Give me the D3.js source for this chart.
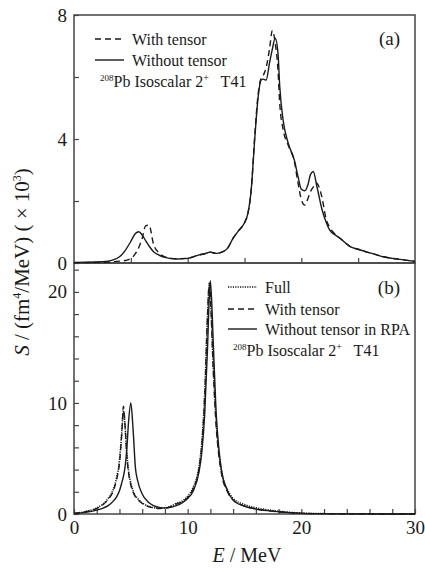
<!DOCTYPE html>
<html>
<head>
<meta charset="utf-8">
<script src="https://cdn.jsdelivr.net/npm/d3@7"></script>
<style>
  body { margin: 0; background: #fff; }
  svg { display: block; }
  text { font-family: "Liberation Serif", "Times New Roman", serif; fill: #1a1a1a; }
</style>
</head>
<body>
<div id="container"></div>
<script>
// panel (a): strength functions with / without tensor
const energyA = [0, 2, 3, 4, 4.5, 5, 5.4, 5.7, 6, 6.3, 6.6, 7, 7.5, 8, 9, 10, 10.5, 11, 11.5, 12, 12.5, 13, 13.5, 14, 14.5, 15, 15.3, 15.6, 15.9, 16.2, 16.45, 16.65, 16.9, 17.2, 17.45, 17.7, 17.95, 18.1, 18.4, 18.85, 19.4, 19.7, 20, 20.3, 20.6, 20.8, 21.05, 21.35, 21.5, 21.8, 22.2, 22.5, 23, 23.4, 24.3, 25.2, 25.7, 26.5, 27.2, 28, 29, 30];
const withoutTensorA = [0.02, 0.03, 0.06, 0.2, 0.4, 0.7, 0.95, 1.01, 0.9, 0.72, 0.55, 0.36, 0.25, 0.18, 0.13, 0.15, 0.2, 0.26, 0.3, 0.35, 0.31, 0.35, 0.47, 0.8, 1.05, 1.3, 1.6, 2.4, 4.0, 5.35, 5.9, 5.93, 5.9, 6.45, 6.9, 7.25, 6.75, 5.7, 4.6, 3.86, 3.3, 2.8, 2.38, 2.33, 2.55, 2.85, 2.95, 2.5, 2.25, 1.75, 1.3, 1.06, 0.9, 0.8, 0.53, 0.42, 0.36, 0.28, 0.2, 0.15, 0.1, 0.05];
const withTensorA = [0.01, 0.02, 0.03, 0.06, 0.08, 0.15, 0.3, 0.5, 0.8, 1.2, 1.22, 0.6, 0.32, 0.2, 0.14, 0.15, 0.2, 0.26, 0.3, 0.35, 0.31, 0.35, 0.47, 0.8, 1.05, 1.3, 1.6, 2.4, 4.1, 5.45, 5.95, 6.05, 6.3, 6.9, 7.5, 7.1, 6.2, 5.15, 4.3, 3.8, 3.25, 2.6, 2.05, 1.87, 2.1, 2.3, 2.45, 2.58, 2.5, 2.14, 1.39, 1.15, 0.92, 0.8, 0.53, 0.42, 0.36, 0.28, 0.2, 0.15, 0.1, 0.05];

// panel (b): full / with tensor / without tensor in RPA
const energyB = [0, 1, 2, 2.5, 3, 3.5, 3.75, 4, 4.2, 4.35, 4.5, 4.65, 4.8, 5, 5.2, 5.4, 5.6, 6, 6.5, 7, 7.5, 8, 8.5, 9, 9.5, 10, 10.5, 11, 11.25, 11.5, 11.75, 11.9, 12, 12.25, 12.5, 12.75, 13, 13.5, 14, 15, 16, 17, 18, 19, 20, 22, 25, 30];
const fullB = [0.05, 0.22, 0.55, 0.85, 1.4, 2.35, 3.3, 4.8, 7.3, 9.3, 7.8, 5.4, 3.9, 2.8, 2.1, 1.65, 1.4, 1.0, 0.72, 0.58, 0.52, 0.55, 0.7, 0.95, 1.15, 1.6, 2.45, 4.3, 6.5, 10.8, 17.8, 20.6, 19.6, 13.4, 8.4, 5.5, 3.7, 2.2, 1.4, 0.85, 0.55, 0.38, 0.25, 0.15, 0.08, 0.03, 0.01, 0];
const withTensorB = [0.05, 0.2, 0.5, 0.8, 1.3, 2.2, 3.1, 4.6, 7.2, 9.7, 7.8, 5.2, 3.7, 2.6, 1.95, 1.55, 1.3, 0.95, 0.68, 0.55, 0.5, 0.52, 0.65, 0.9, 1.1, 1.5, 2.3, 4.1, 6.3, 10.6, 18.0, 20.8, 19.5, 13.0, 8.0, 5.2, 3.5, 2.0, 1.25, 0.72, 0.45, 0.3, 0.2, 0.12, 0.06, 0.03, 0.01, 0];
const withoutTensorB = [0.05, 0.15, 0.35, 0.5, 0.75, 1.2, 1.55, 2.1, 2.8, 3.4, 4.3, 5.9, 8.3, 10.0, 7.6, 4.2, 3.0, 1.8, 1.1, 0.75, 0.6, 0.55, 0.6, 0.75, 1.0, 1.4, 2.1, 3.8, 5.6, 9.0, 15.0, 19.5, 21.0, 15.5, 9.2, 5.8, 3.8, 2.1, 1.25, 0.7, 0.45, 0.3, 0.2, 0.12, 0.06, 0.03, 0.01, 0];

const yTicksA = [0, 2, 4, 6, 8];
const yLabelsA = [0, 4, 8];
const yTicksB = [0, 2, 4, 6, 8, 10, 12, 14, 16, 18, 20, 22];
const yLabelsB = [0, 10, 20];
const xTicksA = [5, 10, 15, 20, 25];
const xTicksB = [0, 2, 4, 6, 8, 10, 12, 14, 16, 18, 20, 22, 24, 26, 28, 30];
const xLabelsB = [0, 10, 20, 30];

const W = 425, H = 569;
const left = 74, right = 415;
const topA = 15, midY = 263, bottomB = 514;

const svg = d3.select("#container").append("svg")
  .attr("width", W).attr("height", H);

const x = d3.scaleLinear().domain([0, 30]).range([left, right]);
const yA = d3.scaleLinear().domain([0, 8]).range([midY, topA]);
const yB = d3.scaleLinear().domain([0, 22.6]).range([bottomB, midY]);

const ink = "#1a1a1a";
const frame = "#444";

function styleAxis(g) {
  g.select(".domain").remove();
  g.selectAll(".tick line").attr("stroke", frame).attr("stroke-width", 1.2);
  g.selectAll(".tick text").attr("font-size", 19).attr("fill", ink);
}

// y axes
svg.append("g").attr("transform", `translate(${left},0)`)
  .call(d3.axisLeft(yA).tickValues(yTicksA).tickSizeInner(-5).tickSizeOuter(0).tickPadding(7)
    .tickFormat(d => yLabelsA.includes(d) ? d : ""))
  .call(styleAxis);

svg.append("g").attr("transform", `translate(${left},0)`)
  .call(d3.axisLeft(yB).tickValues(yTicksB).tickSizeInner(-5).tickSizeOuter(0).tickPadding(7)
    .tickFormat(d => yLabelsB.includes(d) ? d : ""))
  .call(styleAxis);

// x axes
svg.append("g").attr("transform", `translate(0,${midY})`)
  .call(d3.axisBottom(x).tickValues(xTicksA).tickSizeInner(-5).tickSizeOuter(0).tickFormat(""))
  .call(styleAxis);

svg.append("g").attr("transform", `translate(0,${bottomB})`)
  .call(d3.axisBottom(x).tickValues(xTicksB).tickSizeInner(-5).tickSizeOuter(0).tickPadding(7)
    .tickFormat(d => xLabelsB.includes(d) ? d : ""))
  .call(styleAxis);

// frames
svg.append("rect").attr("x", left).attr("y", topA).attr("width", right - left).attr("height", midY - topA)
  .attr("fill", "none").attr("stroke", frame).attr("stroke-width", 1.5);
svg.append("rect").attr("x", left).attr("y", midY).attr("width", right - left).attr("height", bottomB - midY)
  .attr("fill", "none").attr("stroke", frame).attr("stroke-width", 1.5);

// curves
const dashes = { solid: null, dashed: "6,4", dotted: "1.2,1.2" };

function drawCurve(energy, values, yScale, style) {
  const pts = energy.map((e, i) => [e, values[i]]);
  const line = d3.line().x(d => x(d[0])).y(d => yScale(d[1])).curve(d3.curveMonotoneX);
  svg.append("path").datum(pts)
    .attr("d", line)
    .attr("fill", "none")
    .attr("stroke", ink)
    .attr("stroke-width", style === "dotted" ? 1.6 : 1.4)
    .attr("stroke-dasharray", dashes[style]);
}

drawCurve(energyA, withoutTensorA, yA, "solid");
drawCurve(energyA, withTensorA, yA, "dashed");

drawCurve(energyB, fullB, yB, "dotted");
drawCurve(energyB, withTensorB, yB, "dashed");
drawCurve(energyB, withoutTensorB, yB, "solid");

// legends
function legendRow(x0, y0, style, label) {
  svg.append("line").attr("x1", x0).attr("x2", x0 + 29).attr("y1", y0).attr("y2", y0)
    .attr("stroke", ink).attr("stroke-width", style === "dotted" ? 1.6 : 1.4)
    .attr("stroke-dasharray", dashes[style]);
  svg.append("text").attr("x", x0 + 37).attr("y", y0 + 5.5).attr("font-size", 16).text(label);
}

function nucleusLabel(x0, y0) {
  const t = svg.append("text").attr("x", x0).attr("y", y0).attr("font-size", 16)
    .style("white-space", "pre");
  t.append("tspan").attr("font-size", 9).attr("dy", -6).text("208");
  t.append("tspan").attr("dy", 6).text("Pb Isoscalar 2");
  t.append("tspan").attr("font-size", 10).attr("dy", -6).text("+");
  t.append("tspan").attr("dy", 6).text("   T41");
}

legendRow(95, 39, "dashed", "With tensor");
legendRow(95, 60, "solid", "Without tensor");
nucleusLabel(100, 87);

legendRow(228, 287, "dotted", "Full");
legendRow(228, 309, "dashed", "With tensor");
legendRow(228, 329, "solid", "Without tensor in RPA");
nucleusLabel(233, 356);

svg.append("text").attr("x", 400).attr("y", 45).attr("text-anchor", "end").attr("font-size", 19).text("(a)");
svg.append("text").attr("x", 400).attr("y", 294).attr("text-anchor", "end").attr("font-size", 19).text("(b)");

// axis titles
const yTitle = svg.append("text")
  .attr("transform", "translate(29,262) rotate(-90)")
  .attr("text-anchor", "middle").attr("font-size", 21)
  .style("white-space", "pre");
yTitle.append("tspan").attr("font-style", "italic").text("S");
yTitle.append("tspan").text(" / (fm");
yTitle.append("tspan").attr("font-size", 12).attr("dy", -8).text("4");
yTitle.append("tspan").attr("dy", 8).text("/MeV) ( × 10");
yTitle.append("tspan").attr("font-size", 12).attr("dy", -8).text("3");
yTitle.append("tspan").attr("dy", 8).text(")");

const xTitle = svg.append("text")
  .attr("x", 247).attr("y", 562)
  .attr("text-anchor", "middle").attr("font-size", 20);
xTitle.append("tspan").attr("font-style", "italic").text("E");
xTitle.append("tspan").text(" / MeV");
</script>
</body>
</html>
